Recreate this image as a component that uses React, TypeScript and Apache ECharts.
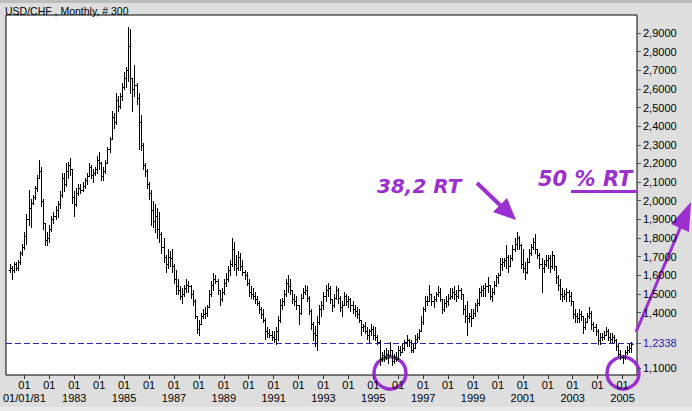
import React, { useEffect, useRef } from "react";
import * as echarts from "echarts";

// Bars are monthly, counted in months from January 1980; the first bar is June 1980.
const firstMonth = 5;

const opens = [
  1.63, 1.64, 1.63, 1.66, 1.64, 1.67, 1.72,
  1.75, 1.81, 1.90, 1.96, 1.99, 2.02, 2.07, 2.12, 2.16, 2.00, 1.88, 1.79,
  1.80, 1.85, 1.90, 1.92, 1.95, 1.98, 2.03, 2.12, 2.09, 2.16, 2.19, 2.17,
  2.02, 1.98, 2.04, 2.07, 2.06, 2.08, 2.11, 2.13, 2.18, 2.14, 2.15, 2.17,
  2.22, 2.20, 2.13, 2.16, 2.20, 2.28, 2.33, 2.45, 2.42, 2.54, 2.51, 2.56,
  2.61, 2.66, 2.70, 2.83, 2.66, 2.60, 2.62, 2.55, 2.42, 2.30, 2.19, 2.16,
  2.09, 2.04, 1.95, 1.89, 1.92, 1.85, 1.82, 1.75, 1.70, 1.66, 1.70, 1.69,
  1.65, 1.58, 1.54, 1.52, 1.49, 1.50, 1.53, 1.55, 1.54, 1.50, 1.46, 1.38,
  1.31, 1.34, 1.38, 1.39, 1.40, 1.43, 1.50, 1.55, 1.58, 1.57, 1.52, 1.47,
  1.51, 1.56, 1.58, 1.63, 1.66, 1.74, 1.66, 1.64, 1.70, 1.65, 1.62, 1.60,
  1.56, 1.51, 1.50, 1.49, 1.47, 1.45, 1.42, 1.39, 1.36, 1.30, 1.29, 1.28,
  1.27, 1.26, 1.30, 1.36, 1.44, 1.46, 1.50, 1.56, 1.54, 1.52, 1.47, 1.46,
  1.44, 1.40, 1.48, 1.51, 1.52, 1.48, 1.41, 1.34, 1.29, 1.28, 1.35, 1.42,
  1.44, 1.49, 1.52, 1.53, 1.47, 1.44, 1.48, 1.52, 1.48, 1.43, 1.44, 1.49,
  1.46, 1.47, 1.44, 1.42, 1.41, 1.39, 1.36, 1.32, 1.33, 1.30, 1.28, 1.30,
  1.31, 1.28, 1.27, 1.24, 1.15, 1.17, 1.16, 1.18, 1.17, 1.20, 1.14, 1.16,
  1.15, 1.20, 1.19, 1.21, 1.24, 1.25, 1.24, 1.20, 1.21, 1.26, 1.27, 1.30,
  1.35, 1.42, 1.46, 1.46, 1.50, 1.46, 1.47, 1.50, 1.51, 1.47, 1.42, 1.45,
  1.46, 1.48, 1.49, 1.51, 1.50, 1.49, 1.52, 1.50, 1.42, 1.38, 1.37, 1.38,
  1.37, 1.40, 1.44, 1.45, 1.51, 1.52, 1.53, 1.54, 1.55, 1.49, 1.51, 1.55,
  1.59, 1.60, 1.66, 1.67, 1.68, 1.70, 1.65, 1.69, 1.74, 1.77, 1.80, 1.76,
  1.66, 1.64, 1.62, 1.67, 1.72, 1.75, 1.78, 1.74, 1.71, 1.66, 1.64, 1.66,
  1.68, 1.69, 1.65, 1.71, 1.65, 1.59, 1.55, 1.50, 1.49, 1.50, 1.51, 1.49,
  1.46, 1.39, 1.38, 1.37, 1.39, 1.38, 1.32, 1.35, 1.38, 1.40, 1.34, 1.32,
  1.30, 1.25, 1.27, 1.27, 1.28, 1.30, 1.27, 1.26, 1.27, 1.25, 1.22, 1.18,
  1.16, 1.16, 1.19, 1.20, 1.21,
];

const highs = [
  1.66, 1.65, 1.67, 1.67, 1.68, 1.73, 1.77,
  1.83, 1.93, 2.06, 2.01, 2.03, 2.08, 2.14, 2.22, 2.18, 2.01, 1.88, 1.83,
  1.87, 1.92, 1.94, 1.97, 2.00, 2.05, 2.15, 2.15, 2.20, 2.21, 2.23, 2.17,
  2.05, 2.07, 2.09, 2.09, 2.10, 2.12, 2.15, 2.20, 2.19, 2.17, 2.18, 2.24,
  2.26, 2.21, 2.18, 2.22, 2.29, 2.34, 2.48, 2.47, 2.58, 2.56, 2.58, 2.63,
  2.69, 2.72, 2.93, 2.92, 2.66, 2.73, 2.63, 2.58, 2.46, 2.31, 2.20, 2.17,
  2.10, 2.06, 2.00, 1.98, 1.96, 1.94, 1.83, 1.80, 1.71, 1.74, 1.73, 1.74,
  1.66, 1.63, 1.58, 1.54, 1.53, 1.55, 1.58, 1.57, 1.55, 1.52, 1.47, 1.38,
  1.36, 1.40, 1.42, 1.43, 1.44, 1.52, 1.57, 1.61, 1.60, 1.58, 1.52, 1.53,
  1.58, 1.61, 1.65, 1.68, 1.80, 1.78, 1.71, 1.73, 1.72, 1.68, 1.63, 1.62,
  1.58, 1.54, 1.53, 1.51, 1.49, 1.46, 1.43, 1.42, 1.37, 1.32, 1.31, 1.30,
  1.30, 1.32, 1.38, 1.47, 1.48, 1.52, 1.58, 1.60, 1.58, 1.52, 1.50, 1.49,
  1.44, 1.50, 1.53, 1.55, 1.54, 1.49, 1.42, 1.35, 1.33, 1.38, 1.44, 1.46,
  1.51, 1.55, 1.56, 1.54, 1.47, 1.50, 1.54, 1.53, 1.49, 1.46, 1.51, 1.50,
  1.49, 1.48, 1.46, 1.44, 1.43, 1.42, 1.36, 1.34, 1.35, 1.32, 1.31, 1.34,
  1.33, 1.32, 1.28, 1.25, 1.19, 1.20, 1.21, 1.20, 1.24, 1.20, 1.18, 1.19,
  1.22, 1.22, 1.23, 1.25, 1.28, 1.26, 1.25, 1.23, 1.28, 1.29, 1.31, 1.38,
  1.43, 1.49, 1.49, 1.55, 1.50, 1.49, 1.51, 1.54, 1.53, 1.47, 1.47, 1.49,
  1.50, 1.53, 1.53, 1.54, 1.52, 1.55, 1.53, 1.50, 1.44, 1.46, 1.40, 1.42,
  1.42, 1.45, 1.47, 1.53, 1.54, 1.55, 1.56, 1.59, 1.55, 1.53, 1.57, 1.60,
  1.61, 1.69, 1.69, 1.69, 1.76, 1.71, 1.71, 1.76, 1.80, 1.83, 1.81, 1.77,
  1.74, 1.67, 1.69, 1.74, 1.77, 1.80, 1.82, 1.74, 1.72, 1.69, 1.68, 1.71,
  1.71, 1.71, 1.73, 1.71, 1.65, 1.60, 1.58, 1.53, 1.52, 1.53, 1.52, 1.51,
  1.46, 1.42, 1.40, 1.42, 1.41, 1.38, 1.37, 1.40, 1.43, 1.41, 1.35, 1.34,
  1.31, 1.29, 1.29, 1.30, 1.32, 1.31, 1.29, 1.29, 1.28, 1.26, 1.23, 1.20,
  1.17, 1.20, 1.22, 1.23, 1.24,
];

const lows = [
  1.62, 1.58, 1.62, 1.63, 1.63, 1.66, 1.71,
  1.74, 1.77, 1.87, 1.86, 1.98, 2.01, 2.05, 2.12, 1.97, 1.85, 1.76, 1.76,
  1.78, 1.84, 1.88, 1.90, 1.91, 1.96, 2.02, 2.05, 2.08, 2.12, 2.14, 1.99,
  1.92, 1.97, 2.03, 2.04, 2.05, 2.07, 2.09, 2.13, 2.12, 2.10, 2.14, 2.15,
  2.17, 2.11, 2.11, 2.15, 2.20, 2.26, 2.33, 2.39, 2.41, 2.48, 2.50, 2.54,
  2.60, 2.61, 2.64, 2.58, 2.48, 2.56, 2.52, 2.28, 2.27, 2.17, 2.13, 2.07,
  2.01, 1.87, 1.86, 1.83, 1.80, 1.78, 1.72, 1.67, 1.62, 1.64, 1.65, 1.62,
  1.56, 1.50, 1.50, 1.47, 1.45, 1.49, 1.51, 1.51, 1.48, 1.44, 1.37, 1.29,
  1.28, 1.34, 1.37, 1.37, 1.38, 1.43, 1.49, 1.52, 1.56, 1.50, 1.44, 1.46,
  1.50, 1.54, 1.57, 1.60, 1.65, 1.63, 1.60, 1.63, 1.63, 1.60, 1.58, 1.55,
  1.49, 1.48, 1.47, 1.45, 1.44, 1.40, 1.37, 1.35, 1.26, 1.27, 1.27, 1.25,
  1.24, 1.23, 1.25, 1.35, 1.42, 1.44, 1.49, 1.51, 1.50, 1.45, 1.44, 1.42,
  1.34, 1.39, 1.48, 1.50, 1.46, 1.39, 1.31, 1.25, 1.22, 1.20, 1.34, 1.38,
  1.42, 1.46, 1.49, 1.45, 1.41, 1.43, 1.47, 1.45, 1.41, 1.38, 1.44, 1.44,
  1.43, 1.41, 1.40, 1.38, 1.37, 1.35, 1.28, 1.30, 1.29, 1.26, 1.24, 1.28,
  1.26, 1.25, 1.23, 1.12, 1.14, 1.14, 1.15, 1.13, 1.17, 1.12, 1.13, 1.14,
  1.15, 1.17, 1.19, 1.20, 1.22, 1.22, 1.19, 1.19, 1.21, 1.24, 1.26, 1.30,
  1.34, 1.41, 1.44, 1.46, 1.44, 1.43, 1.46, 1.49, 1.46, 1.40, 1.41, 1.43,
  1.44, 1.47, 1.48, 1.47, 1.46, 1.48, 1.47, 1.39, 1.35, 1.28, 1.35, 1.33,
  1.37, 1.38, 1.41, 1.44, 1.49, 1.49, 1.49, 1.51, 1.47, 1.46, 1.50, 1.54,
  1.56, 1.60, 1.63, 1.65, 1.64, 1.62, 1.65, 1.68, 1.73, 1.74, 1.74, 1.64,
  1.62, 1.58, 1.61, 1.67, 1.71, 1.74, 1.72, 1.69, 1.64, 1.51, 1.62, 1.65,
  1.64, 1.62, 1.64, 1.63, 1.56, 1.52, 1.47, 1.46, 1.47, 1.46, 1.46, 1.44,
  1.37, 1.35, 1.35, 1.35, 1.36, 1.29, 1.31, 1.35, 1.37, 1.31, 1.30, 1.28,
  1.23, 1.23, 1.25, 1.26, 1.28, 1.25, 1.24, 1.24, 1.24, 1.20, 1.17, 1.15,
  1.13, 1.15, 1.18, 1.19, 1.19,
];

const closes = [
  1.64, 1.63, 1.66, 1.64, 1.67, 1.72, 1.75,
  1.81, 1.90, 1.96, 1.99, 2.02, 2.07, 2.12, 2.16, 2.00, 1.88, 1.79, 1.80,
  1.85, 1.90, 1.92, 1.95, 1.98, 2.03, 2.12, 2.09, 2.16, 2.19, 2.17, 2.02,
  1.98, 2.04, 2.07, 2.06, 2.08, 2.11, 2.13, 2.18, 2.14, 2.15, 2.17, 2.22,
  2.20, 2.13, 2.16, 2.20, 2.28, 2.33, 2.45, 2.42, 2.54, 2.51, 2.56, 2.61,
  2.66, 2.70, 2.83, 2.66, 2.60, 2.62, 2.55, 2.42, 2.30, 2.19, 2.16, 2.09,
  2.04, 1.95, 1.89, 1.92, 1.85, 1.82, 1.75, 1.70, 1.66, 1.70, 1.69, 1.65,
  1.58, 1.54, 1.52, 1.49, 1.50, 1.53, 1.55, 1.54, 1.50, 1.46, 1.38, 1.31,
  1.34, 1.38, 1.39, 1.40, 1.43, 1.50, 1.55, 1.58, 1.57, 1.52, 1.47, 1.51,
  1.56, 1.58, 1.63, 1.66, 1.74, 1.66, 1.64, 1.70, 1.65, 1.62, 1.60, 1.56,
  1.51, 1.50, 1.49, 1.47, 1.45, 1.42, 1.39, 1.36, 1.30, 1.29, 1.28, 1.27,
  1.26, 1.30, 1.36, 1.44, 1.46, 1.50, 1.56, 1.54, 1.52, 1.47, 1.46, 1.44,
  1.40, 1.48, 1.51, 1.52, 1.48, 1.41, 1.34, 1.29, 1.28, 1.35, 1.42, 1.44,
  1.49, 1.52, 1.53, 1.47, 1.44, 1.48, 1.52, 1.48, 1.43, 1.44, 1.49, 1.46,
  1.47, 1.44, 1.42, 1.41, 1.39, 1.36, 1.32, 1.33, 1.30, 1.28, 1.30, 1.31,
  1.28, 1.27, 1.24, 1.15, 1.17, 1.16, 1.18, 1.17, 1.20, 1.14, 1.16, 1.15,
  1.20, 1.19, 1.21, 1.24, 1.25, 1.24, 1.20, 1.21, 1.26, 1.27, 1.30, 1.35,
  1.42, 1.46, 1.46, 1.50, 1.46, 1.47, 1.50, 1.51, 1.47, 1.42, 1.45, 1.46,
  1.48, 1.49, 1.51, 1.50, 1.49, 1.52, 1.50, 1.42, 1.38, 1.37, 1.38, 1.37,
  1.40, 1.44, 1.45, 1.51, 1.52, 1.53, 1.54, 1.55, 1.49, 1.51, 1.55, 1.59,
  1.60, 1.66, 1.67, 1.68, 1.70, 1.65, 1.69, 1.74, 1.77, 1.80, 1.76, 1.66,
  1.64, 1.62, 1.67, 1.72, 1.75, 1.78, 1.74, 1.71, 1.66, 1.64, 1.66, 1.68,
  1.69, 1.65, 1.71, 1.65, 1.59, 1.55, 1.50, 1.49, 1.50, 1.51, 1.49, 1.46,
  1.39, 1.38, 1.37, 1.39, 1.38, 1.32, 1.35, 1.38, 1.40, 1.34, 1.32, 1.30,
  1.25, 1.27, 1.27, 1.28, 1.30, 1.27, 1.26, 1.27, 1.25, 1.22, 1.18, 1.16,
  1.16, 1.19, 1.20, 1.21, 1.23,
];

const supportLevel = 1.2338;

const yTickValues = [1.1, 1.4, 1.5, 1.6, 1.7, 1.8, 1.9, 2.0, 2.1, 2.2, 2.3, 2.4, 2.5, 2.6, 2.7, 2.8, 2.9];

// one "01" tick per January
const xTickYears = [
  1981, 1982, 1983, 1984, 1985, 1986, 1987, 1988, 1989, 1990, 1991, 1992, 1993,
  1994, 1995, 1996, 1997, 1998, 1999, 2000, 2001, 2002, 2003, 2004, 2005,
];
const monthLabel = "01";
// the year row, under every other January
const yearRowYears = [1981, 1983, 1985, 1987, 1989, 1991, 1993, 1995, 1997, 1999, 2001, 2003, 2005];
const yearRowLabels = [
  "01/01/81", "1983", "1985", "1987", "1989", "1991", "1993", "1995", "1997", "1999", "2001", "2003", "2005",
];

const titleText = "USD/CHF , Monthly, # 300";
const note1 = "38,2 RT";
const note2 = "50 % RT";

const PURPLE = "#9b2fd0";

export default function App() {
  const ref = useRef<HTMLDivElement>(null);

  useEffect(() => {
    if (!ref.current) return;
    const chart = echarts.init(ref.current, undefined, { renderer: "svg" });

    const xMin = 3.12;
    const xMax = 306.96;
    const xTickMonths = xTickYears.map((y) => (y - 1980) * 12);
    const yearRowMonths = yearRowYears.map((y) => (y - 1980) * 12);

    const bars = closes.map((c, i) => [firstMonth + i, opens[i], highs[i], lows[i], c]);

    const renderItem = (params: any, api: any) => {
      const m = api.value(0);
      const ph = api.coord([m, api.value(2)]);
      const pl = api.coord([m, api.value(3)]);
      const po = api.coord([m, api.value(1)]);
      const pc = api.coord([m, api.value(4)]);
      const x = Math.round(ph[0]) + 0.5;
      const yo = Math.round(po[1]) + 0.5;
      const yc = Math.round(pc[1]) + 0.5;
      const style = { stroke: "#000", lineWidth: 1, fill: null };
      return {
        type: "group",
        children: [
          { type: "line", shape: { x1: x, y1: Math.round(ph[1]), x2: x, y2: Math.round(pl[1]) + 1 }, style },
          { type: "line", shape: { x1: x - 2, y1: yo, x2: x, y2: yo }, style },
          { type: "line", shape: { x1: x, y1: yc, x2: x + 2, y2: yc }, style },
        ],
      };
    };

    const arrow1Tip = [516, 220];
    const arrow2Tip = [691, 202];

    const labelFont = {
      color: "#000",
      fontFamily: "Liberation Sans, Arial, sans-serif",
      fontSize: 11,
    };

    chart.setOption({
      animation: false,
      backgroundColor: "#dedede",
      grid: {
        left: 4,
        right: 55,
        top: 15,
        bottom: 36,
        show: true,
        backgroundColor: "#ffffff",
        borderColor: "#000000",
        borderWidth: 1,
      },
      xAxis: [
        {
          type: "value",
          min: xMin,
          max: xMax,
          axisLine: { show: false },
          splitLine: { show: false },
          axisTick: {
            show: true,
            length: 4,
            customValues: xTickMonths,
            lineStyle: { color: "#333333" },
          },
          axisLabel: {
            ...labelFont,
            customValues: xTickMonths,
            showMinLabel: true,
            showMaxLabel: true,
            hideOverlap: false,
            margin: 4,
            formatter: () => monthLabel,
          },
        },
        {
          type: "value",
          position: "bottom",
          min: xMin,
          max: xMax,
          axisLine: { show: false },
          splitLine: { show: false },
          axisTick: { show: false },
          axisLabel: {
            ...labelFont,
            customValues: yearRowMonths,
            showMinLabel: true,
            showMaxLabel: true,
            hideOverlap: false,
            margin: 17,
            formatter: (v: number) => {
              const idx = yearRowMonths.indexOf(Math.round(v));
              return idx >= 0 ? yearRowLabels[idx] : "";
            },
          },
        },
      ],
      yAxis: {
        type: "value",
        position: "right",
        min: 1.06474,
        max: 2.99659,
        axisLine: { show: false },
        splitLine: { show: false },
        axisTick: {
          show: true,
          length: 4,
          customValues: [...yTickValues, supportLevel],
          lineStyle: { color: "#2d6a55" },
        },
        axisLabel: {
          customValues: [...yTickValues, supportLevel],
          showMinLabel: true,
          showMaxLabel: true,
          margin: 6,
          fontFamily: "Liberation Sans, Arial, sans-serif",
          fontSize: 11,
          color: (v: any) => (Math.abs(Number(v) - supportLevel) < 1e-6 ? "#2323b0" : "#000000"),
          formatter: (v: number) => v.toFixed(4).replace(".", ","),
        },
      },
      series: [
        {
          type: "line",
          data: [
            [xMin, supportLevel],
            [xMax, supportLevel],
          ],
          symbol: "none",
          silent: true,
          lineStyle: { color: "#2626b4", width: 1, type: [6, 3] },
          z: 1,
        },
        {
          type: "custom",
          renderItem,
          data: bars,
          encode: { x: 0, y: [1, 2, 3, 4] },
          silent: true,
          z: 2,
        },
      ],
      graphic: [
        { type: "rect", shape: { x: 0, y: 0, width: 692, height: 3 }, style: { fill: "#bdbdbd" }, silent: true },
        { type: "rect", shape: { x: 0, y: 407, width: 692, height: 4 }, style: { fill: "#ececec" }, silent: true },
        {
          type: "text",
          x: 5,
          y: 11,
          style: {
            text: titleText,
            fill: "#000",
            font: "10.5px 'Liberation Sans', Arial, sans-serif",
            verticalAlign: "middle",
          },
        },
        {
          type: "text",
          x: 377,
          y: 186,
          style: {
            text: note1,
            fill: PURPLE,
            font: "italic bold 20px 'DejaVu Sans', Verdana, sans-serif",
            verticalAlign: "middle",
          },
        },
        {
          type: "text",
          x: 538,
          y: 179,
          style: {
            text: note2,
            fill: PURPLE,
            font: "italic bold 21px 'DejaVu Sans', Verdana, sans-serif",
            verticalAlign: "middle",
          },
        },
        { type: "rect", shape: { x: 571, y: 190, width: 66, height: 3 }, style: { fill: PURPLE } },
        // arrow to the 2000/2001 top
        { type: "line", shape: { x1: 477, y1: 183, x2: 502, y2: 207 }, style: { stroke: PURPLE, lineWidth: 4 } },
        {
          type: "polygon",
          shape: { points: [arrow1Tip, [493, 212], [507, 198]] },
          style: { fill: PURPLE },
        },
        // arrow up to the right
        { type: "line", shape: { x1: 636, y1: 332, x2: 681, y2: 226 }, style: { stroke: PURPLE, lineWidth: 3 } },
        {
          type: "polygon",
          shape: { points: [arrow2Tip, [689, 232], [671, 224]] },
          style: { fill: PURPLE },
        },
        {
          type: "circle",
          shape: { cx: 390, cy: 373, r: 16 },
          style: { fill: "none", stroke: PURPLE, lineWidth: 3.5 },
        },
        {
          type: "circle",
          shape: { cx: 623, cy: 373, r: 16 },
          style: { fill: "none", stroke: PURPLE, lineWidth: 3.5 },
        },
      ],
    });

    return () => chart.dispose();
  }, []);

  return (
    <div
      ref={ref}
      style={{ position: "fixed", left: 0, top: 0, width: 692, height: 411 }}
    />
  );
}
